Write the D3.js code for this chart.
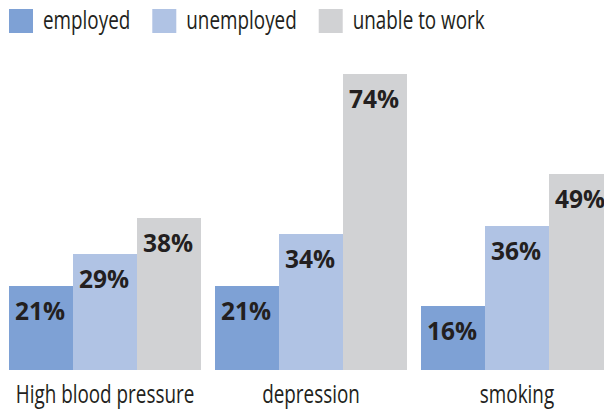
<!DOCTYPE html>
<html>
<head>
<meta charset="utf-8">
<script src="https://cdn.jsdelivr.net/npm/d3@7/dist/d3.min.js"></script>
<style>
  html, body { margin: 0; padding: 0; background: #fff; overflow: hidden; }
  svg { display: block; }
</style>
</head>
<body>
<script>
const categories = ["High blood pressure", "depression", "smoking"];
const seriesNames = ["employed", "unemployed", "unable to work"];
const employed = [21, 21, 16];
const unemployed = [29, 34, 36];
const unableToWork = [38, 74, 49];
const seriesColors = ["#7ea1d5", "#b0c3e4", "#d1d2d4"];

const W = 604, H = 412;
const textColor = "#231f20";
const condense = 0.74;

const svg = d3.select("body").append("svg")
  .attr("width", W).attr("height", H);

const values = [employed, unemployed, unableToWork];
const data = categories.map((c, i) => ({
  cat: c,
  vals: seriesNames.map((s, j) => ({ series: s, v: values[j][i], j }))
}));

const x0 = d3.scaleBand().domain(categories).range([9, 613]).paddingInner(14 / 206).paddingOuter(0);
const x1 = d3.scaleBand().domain(seriesNames).range([0, x0.bandwidth()]).padding(0);
const y = d3.scaleLinear().domain([0, 74]).range([370, 74]);
const color = d3.scaleOrdinal().domain(seriesNames).range(seriesColors);

// Legend
const legend = svg.append("g");
let lx = 9;
seriesNames.forEach((s) => {
  legend.append("rect").attr("x", lx).attr("y", 9).attr("width", 24).attr("height", 24)
    .attr("fill", color(s));
  const t = legend.append("text")
    .attr("transform", `translate(${lx + 34},29) scale(${condense},1)`)
    .attr("font-family", "'Open Sans', sans-serif")
    .attr("font-size", 25.5)
    .attr("fill", textColor)
    .text(s);
  const w = t.node().getComputedTextLength() * condense;
  lx = lx + 34 + w + 22;
});

// Bars
const groups = svg.append("g").selectAll("g").data(data).join("g")
  .attr("transform", d => `translate(${x0(d.cat)},0)`);

groups.selectAll("rect").data(d => d.vals).join("rect")
  .attr("x", d => x1(d.series))
  .attr("y", d => y(d.v))
  .attr("width", x1.bandwidth())
  .attr("height", d => y(0) - y(d.v))
  .attr("fill", d => color(d.series));

groups.selectAll("text.val").data(d => d.vals).join("text")
  .attr("class", "val")
  .attr("x", d => x1(d.series) + 6)
  .attr("y", d => y(d.v) + 34)
  .attr("font-family", "'Open Sans', sans-serif")
  .attr("font-weight", 700)
  .attr("font-size", 24.5)
  .attr("fill", textColor)
  .text(d => d.v + "%");

// Category labels
const xAxis = svg.append("g");
categories.forEach(c => {
  xAxis.append("text")
    .attr("transform", `translate(${x0(c) + x0.bandwidth() / 2},403) scale(${condense},1)`)
    .attr("text-anchor", "middle")
    .attr("font-family", "'Open Sans', sans-serif")
    .attr("font-size", 25.5)
    .attr("fill", textColor)
    .text(c);
});
</script>
</body>
</html>
